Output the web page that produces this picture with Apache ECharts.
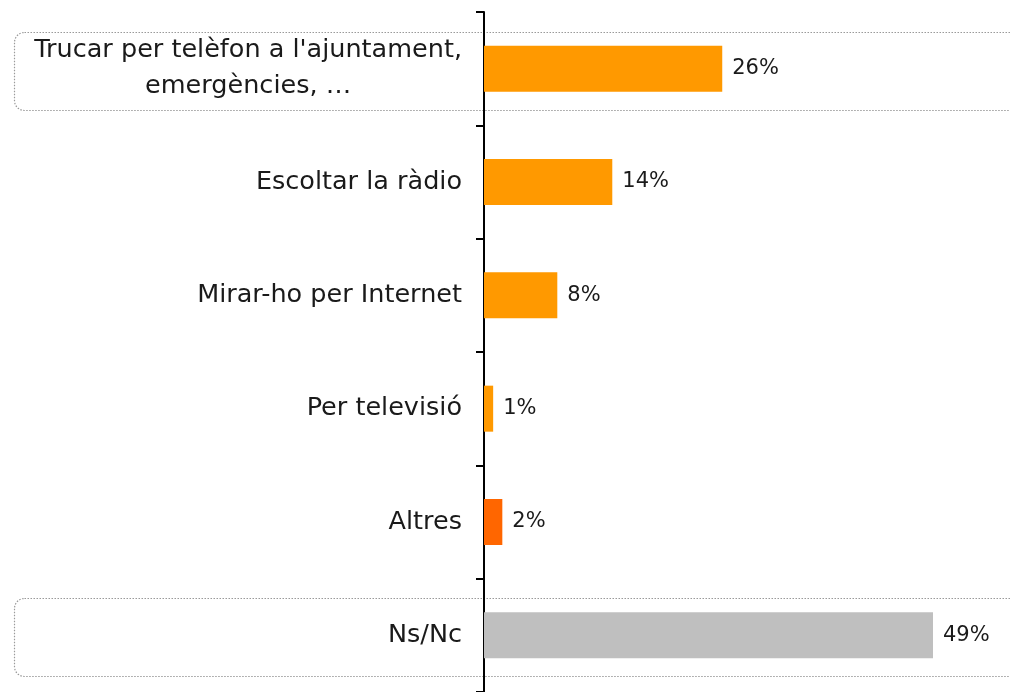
<!DOCTYPE html>
<html>
<head>
<meta charset="utf-8">
<script src="https://cdn.jsdelivr.net/npm/echarts@6/dist/echarts.min.js"></script>
<style>html,body{margin:0;padding:0;background:#fff;}#c{width:1010px;height:692px;}</style>
</head>
<body>
<div id="c"></div>
<script>
const categories = ["Trucar per telèfon a l'ajuntament,\nemergències, …", "Escoltar la ràdio", "Mirar-ho per Internet", "Per televisió", "Altres", "Ns/Nc"];
const values = [26, 14, 8, 1, 2, 49];
const barColors = ["#FF9900", "#FF9900", "#FF9900", "#FF9900", "#FF6600", "#BFBFBF"];
const boxedCategories = [0, 5];

const FONT = '"DejaVu Sans"';
const LSIZE = 25.5;
const chart = echarts.init(document.getElementById('c'), null, {renderer: 'canvas'});
const option = {
  animation: false,
  backgroundColor: '#ffffff',
  grid: {left: 484, top: 12, bottom: 0, width: 449, containLabel: false},
  xAxis: {type: 'value', min: 0, max: 49, show: false},
  yAxis: {
    type: 'category', data: categories, inverse: true,
    axisLine: {show: true, lineStyle: {color: '#000', width: 2}},
    axisTick: {show: true, length: 8, lineStyle: {color: '#000', width: 2}},
    axisLabel: {
      margin: 22, fontFamily: FONT, fontSize: LSIZE, color: '#1a1a1a',
      formatter: function (v) { return v.split('\n').map(s => '{c|' + s + '}').join('\n'); },
      rich: {c: {align: 'center', fontFamily: FONT, fontSize: LSIZE, color: '#1a1a1a', lineHeight: 36}}
    }
  },
  series: [{
    type: 'bar', barWidth: 46,
    data: values.map((v, i) => ({value: v, itemStyle: {color: barColors[i]}})),
    label: {show: true, position: 'right', distance: 10, formatter: '{c}%', fontFamily: FONT, fontSize: 21, color: '#1a1a1a'}
  }]
};
chart.setOption(option);

const graphics = boxedCategories.map(i => {
  const cy = chart.convertToPixel({yAxisIndex: 0}, i);
  return {
    type: 'rect', silent: true, z: -1,
    shape: {x: 14.5, y: Math.round(cy - 37) + 0.5, width: 1030, height: 78, r: 10},
    style: {fill: 'none', stroke: '#9a9a9a', lineWidth: 1.2, lineDash: [1.5, 1.5]}
  };
});
chart.setOption({graphic: graphics});
</script>
</body>
</html>
